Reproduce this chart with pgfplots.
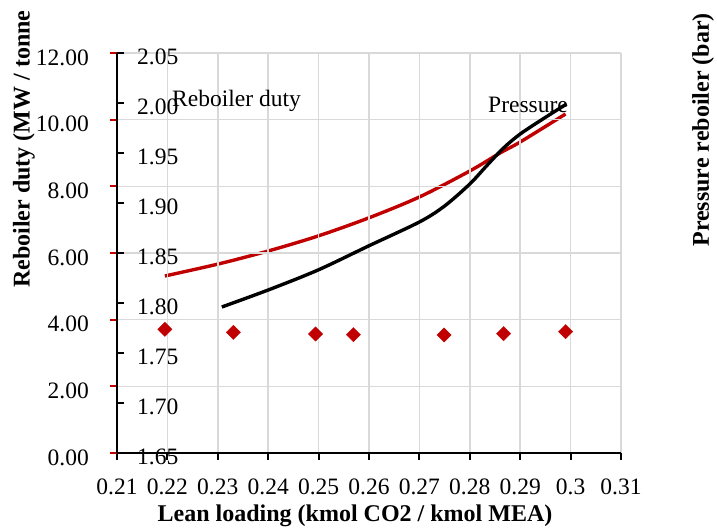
\documentclass[border=0pt]{standalone}
\usepackage{pgfplots}
\pgfplotsset{compat=1.18}
\usepackage{fontspec}
\setmainfont{Liberation Serif}
\definecolor{dutyred}{HTML}{C00000}
\definecolor{gridgray}{HTML}{D9D9D9}

\newcommand{\ticksize}{\fontsize{23.5bp}{28bp}\selectfont}
\newcommand{\labelsize}{\bfseries\fontsize{24bp}{28bp}\selectfont}

\begin{document}
\begin{tikzpicture}[x=1bp,y=1bp]
\pgfplotsset{
  base/.style={scale only axis, width=504bp, height=400bp,
    at={(117bp,76bp)}, anchor=south west,
    xmin=0.21, xmax=0.31, clip=false},
}
% reboiler pressure curve (red), lies below the grid
\begin{axis}[base, ymin=1.65, ymax=2.05, hide axis]
\addplot[dutyred, line width=3.4bp, smooth] coordinates {
  (0.2195,1.827) (0.2301,1.839) (0.2400,1.852) (0.2499,1.867)
  (0.2599,1.885) (0.2700,1.906) (0.2800,1.932) (0.2860,1.950)
  (0.2900,1.961) (0.2990,1.989)
};
\end{axis}

% reboiler duty axis with grid and duty points
\begin{axis}[base, ymin=0, ymax=12, axis on top,
  axis x line*=bottom, axis y line*=left,
  axis line style={line width=2bp, black},
  xtick={0.21,0.22,0.23,0.24,0.25,0.26,0.27,0.28,0.29,0.30,0.31},
  xticklabels={0.21,0.22,0.23,0.24,0.25,0.26,0.27,0.28,0.29,0.3,0.31},
  ytick={0,2,4,6,8,10,12},
  yticklabels={0.00,2.00,4.00,6.00,8.00,10.00,12.00},
  tick align=outside, major tick length=7bp,
  xtick style={black, line width=2bp},
  ytick style={dutyred, line width=2bp},
  grid=major, major grid style={gridgray, line width=1.5bp},
  tick label style={font=\ticksize},
  xticklabel style={anchor=base, inner sep=0pt, yshift=-35bp},
  yticklabel style={anchor=east, inner sep=0pt, xshift=-21bp, yshift=-4.5bp},
]
\addplot[only marks, mark=square*, mark size=5.1bp,
  mark options={rotate=45, draw=dutyred, fill=dutyred, line width=0.2bp}] coordinates {
  (0.2195,3.71) (0.2331,3.62) (0.2494,3.57) (0.2569,3.55)
  (0.2749,3.54) (0.2867,3.58) (0.2990,3.64)
};
\end{axis}

\node[anchor=base west, inner sep=0pt, font=\ticksize] at (172,422) {Reboiler duty};
\node[anchor=base west, inner sep=0pt, font=\ticksize] at (488,416) {Pressure};

% pressure axis and black curve
\begin{axis}[base, ymin=1.65, ymax=2.05,
  axis x line=none, axis y line*=left, xtick=\empty,
  axis line style={line width=2bp, black},
  ytick={1.65,1.70,1.75,1.80,1.85,1.90,1.95,2.00,2.05},
  yticklabels={1.65,1.70,1.75,1.80,1.85,1.90,1.95,2.00,2.05},
  tick align=inside, major tick length=7bp,
  ytick style={black, line width=2bp},
  tick label style={font=\ticksize},
  yticklabel style={anchor=west, inner sep=0pt, xshift=20bp, yshift=-4bp},
]
\addplot[black, line width=3.4bp, smooth] coordinates {
  (0.2308,1.796) (0.2400,1.813) (0.2499,1.833) (0.2599,1.857)
  (0.2700,1.881) (0.2750,1.897) (0.2800,1.919) (0.2833,1.937)
  (0.2867,1.955) (0.2900,1.969) (0.2945,1.984) (0.2992,1.999)
};
\end{axis}

\node[rotate=90, anchor=west, inner sep=0pt, font=\labelsize] at (24,241) {Reboiler duty (MW / tonne};
\node[rotate=90, inner sep=0pt, font=\labelsize] at (703,399) {Pressure reboiler (bar)};
\node[anchor=base, inner sep=0pt, font=\labelsize] at (355,7) {Lean loading (kmol CO2 / kmol MEA)};

\pgfresetboundingbox
\useasboundingbox (0,0) rectangle (717,529);
\end{tikzpicture}
\end{document}
